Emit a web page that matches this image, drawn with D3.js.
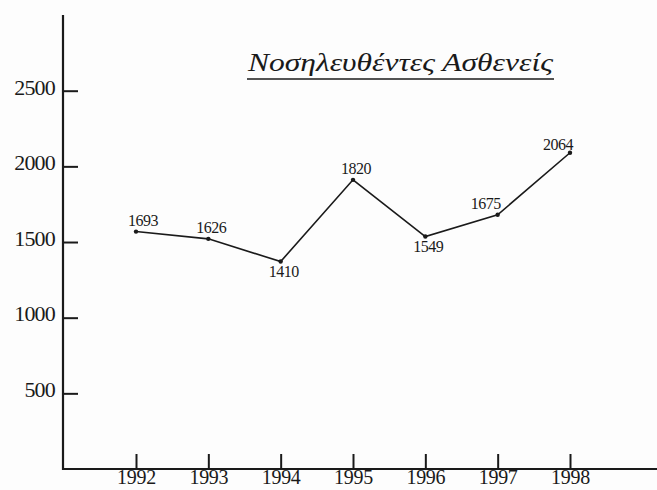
<!DOCTYPE html>
<html>
<head>
<meta charset="utf-8">
<script src="https://cdn.jsdelivr.net/npm/d3@7"></script>
<style>
  body { margin: 0; background: #fff; }
  svg { display: block; }
  text { font-family: "Liberation Serif", "Times New Roman", serif; fill: #1a1a1a; }
</style>
</head>
<body>
<div id="chart"></div>
<script>
// Datos del gráfico
const years = [1992, 1993, 1994, 1995, 1996, 1997, 1998];
const values = [1569, 1521, 1371, 1911, 1536, 1680, 2090];
// números impresos junto a cada punto
const labels = ['1693', '1626', '1410', '1820', '1549', '1675', '2064'];
const yTicks = [500, 1000, 1500, 2000, 2500];
const title = 'Νοσηλευθέντες Ασθενείς';

const width = 657, height = 490;
const axisX = 63, axisY = 469;

const svg = d3.select('#chart').append('svg')
  .attr('width', width)
  .attr('height', height);

svg.append('rect').attr('width', width).attr('height', height).attr('fill', '#fdfdfd');

const x = d3.scaleLinear().domain([1992, 1998]).range([136, 570]);
const y = d3.scaleLinear().domain([0, 2500]).range([axisY, 90.7]);

// ejes
const yAxis = d3.axisLeft(y)
  .tickValues(yTicks)
  .tickFormat(d3.format('d'))
  .tickSizeInner(-15)
  .tickSizeOuter(0)
  .tickPadding(8);

const gy = svg.append('g')
  .attr('transform', `translate(${axisX},0)`)
  .call(yAxis);
gy.select('.domain').remove();
gy.selectAll('.tick line').attr('stroke', '#1a1a1a').attr('stroke-width', 2);
gy.selectAll('.tick text')
  .attr('dy', '0.15em')
  .style('font-size', '22px')
  .style('letter-spacing', '-0.8px');

const xAxis = d3.axisBottom(x)
  .tickValues(years)
  .tickFormat(d3.format('d'))
  .tickSizeInner(-15)
  .tickSizeOuter(0)
  .tickPadding(2);

const gx = svg.append('g')
  .attr('transform', `translate(0,${axisY})`)
  .call(xAxis);
gx.select('.domain').remove();
gx.selectAll('.tick line').attr('stroke', '#1a1a1a').attr('stroke-width', 2);
gx.selectAll('.tick text')
  .attr('dy', '0.66em')
  .style('font-size', '20px')
  .style('letter-spacing', '-0.3px');

// líneas de los ejes
svg.append('line')
  .attr('x1', axisX).attr('x2', axisX)
  .attr('y1', 15).attr('y2', axisY + 1)
  .attr('stroke', '#1a1a1a').attr('stroke-width', 2.2);
svg.append('line')
  .attr('x1', axisX - 1).attr('x2', width)
  .attr('y1', axisY).attr('y2', axisY)
  .attr('stroke', '#1a1a1a').attr('stroke-width', 2.2);

// línea de datos
const points = years.map((yr, i) => ({ year: yr, value: values[i], label: labels[i] }));

const line = d3.line()
  .x(d => x(d.year))
  .y(d => y(d.value));

svg.append('path')
  .datum(points)
  .attr('d', line)
  .attr('fill', 'none')
  .attr('stroke', '#1a1a1a')
  .attr('stroke-width', 1.6);

svg.selectAll('.pt')
  .data(points)
  .enter()
  .append('circle')
  .attr('class', 'pt')
  .attr('cx', d => x(d.year))
  .attr('cy', d => y(d.value))
  .attr('r', 2.2)
  .attr('fill', '#1a1a1a');

// etiquetas: abajo en los mínimos locales, arriba en el resto
const isLow = (i) => i > 0 && i < values.length - 1 &&
  values[i] < values[i - 1] && values[i] < values[i + 1];

svg.selectAll('.lbl')
  .data(points)
  .enter()
  .append('text')
  .attr('class', 'lbl')
  .attr('x', (d, i) => x(d.year) + (i === 0 ? 7 : i >= 5 ? -12 : 3))
  .attr('y', (d, i) => y(d.value) + (isLow(i) ? 15 : (i === 6 ? -3 : -6)))
  .attr('text-anchor', 'middle')
  .style('font-size', '16px')
  .style('letter-spacing', '-0.5px')
  .text(d => d.label);

// título
svg.append('text')
  .attr('x', 248)
  .attr('y', 71)
  .attr('textLength', 305)
  .attr('lengthAdjust', 'spacingAndGlyphs')
  .style('font-size', '25px')
  .style('font-style', 'italic')
  .text(title);

svg.append('line')
  .attr('x1', 247).attr('x2', 554)
  .attr('y1', 79).attr('y2', 79)
  .attr('stroke', '#1a1a1a').attr('stroke-width', 1.6);
</script>
</body>
</html>
